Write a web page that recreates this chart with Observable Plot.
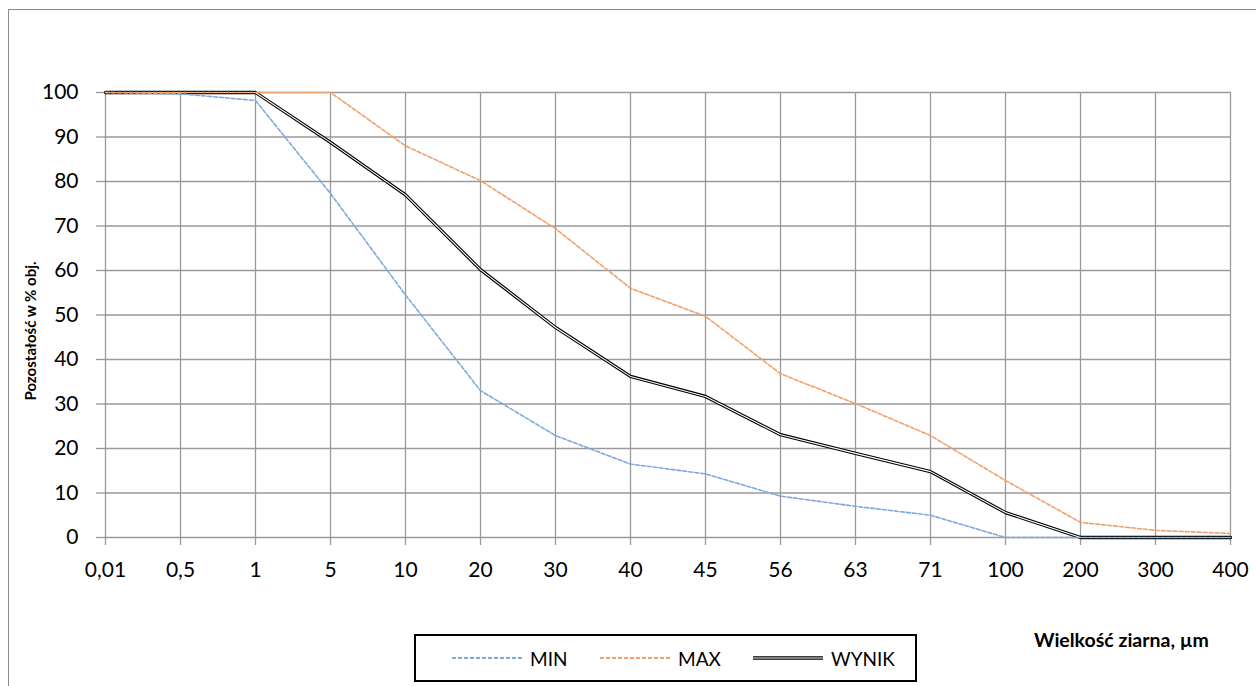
<!DOCTYPE html>
<html>
<head>
<meta charset="utf-8">
<script src="https://cdn.jsdelivr.net/npm/d3@7"></script>
<script src="https://cdn.jsdelivr.net/npm/@observablehq/plot@0.6"></script>
<style>
  html, body { margin: 0; padding: 0; background: #fff; overflow: hidden; }
  body { width: 1256px; height: 686px; position: relative; font-family: Lato, "Open Sans", sans-serif; }
  #frame { position: absolute; left: 8px; top: 9px; width: 1400px; height: 800px;
           border-left: 1.3px solid #8c8c8c; border-top: 1.3px solid #8c8c8c; }
  #chart { position: absolute; left: 0; top: 0; }
  #ytitle { position: absolute; left: 30px; top: 331px; transform: translate(-50%, -50%) rotate(-90deg);
            font-weight: bold; font-size: 15px; white-space: nowrap; color: #000; }
  #xtitle { position: absolute; left: 1034px; top: 628px; font-weight: bold; font-size: 19.5px;
            white-space: nowrap; color: #000; }
  #legend { position: absolute; left: 414px; top: 634px; width: 499px; height: 44px;
            border: 2px solid #000; background: #fff; }
  .item { position: absolute; top: 0; height: 44px; display: flex; align-items: center; font-size: 19px; color: #000; }
  .item svg { margin-right: 8px; }
</style>
</head>
<body>
<div id="frame"></div>
<div id="chart"></div>
<div id="ytitle">Pozostałość w % obj.</div>
<div id="xtitle">Wielkość ziarna, µm</div>
<div id="legend"></div>
<script>
const categories = ["0,01","0,5","1","5","10","20","30","40","45","56","63","71","100","200","300","400"];
const minValues  = [100, 99.7, 98.2, 77.3, 54.5, 33, 22.9, 16.5, 14.3, 9.3, 7.0, 5.0, 0, 0, 0, 0];
const maxValues  = [100, 100, 100, 100, 88, 80.2, 69.4, 56, 49.7, 36.8, 30.1, 22.9, 12.8, 3.4, 1.6, 0.9];
const wynikValues = [100, 100, 100, 88.8, 77, 60.2, 47.2, 36.2, 31.7, 23.1, 18.9, 14.8, 5.6, 0, 0, 0];
const yTicks = [0,10,20,30,40,50,60,70,80,90,100];
const seriesNames = ["MIN", "MAX", "WYNIK"];
const colors = { MIN: "#7ea9dc", MAX: "#f2a06a", WYNIK: "#000000" };

const rows = (vals) => categories.map((c, i) => ({ x: c, y: vals[i] }));
const minData = rows(minValues), maxData = rows(maxValues), wynikData = rows(wynikValues);

const gridColor = "#9a9a9a";

const plot = Plot.plot({
  width: 1256,
  height: 600,
  marginLeft: 103,
  marginRight: 25,
  marginTop: 92,
  marginBottom: 63,
  style: { fontFamily: "Lato, 'Open Sans', sans-serif", background: "transparent", color: "#000" },
  x: { type: "point", domain: categories, padding: 0 },
  y: { domain: [0, 100] },
  marks: [
    Plot.ruleX(categories, { x: d => d, y1: 0, y2: 100, stroke: gridColor, strokeWidth: 1.3 }),
    Plot.ruleY(yTicks, { y: d => d, stroke: gridColor, strokeWidth: 1.3 }),
    Plot.axisX({ tickSize: 8, tickPadding: 17, fontSize: 21, stroke: gridColor, strokeWidth: 1.3, fill: "#000", label: null }),
    Plot.axisY({ ticks: yTicks, tickSize: 7, tickPadding: 18, fontSize: 21, stroke: gridColor, strokeWidth: 1.3, fill: "#000", label: null, tickFormat: d => String(d) }),
    Plot.line(wynikData, { x: "x", y: "y", stroke: "#000", strokeWidth: 3.3 }),
    Plot.line(wynikData, { x: "x", y: "y", stroke: "#fff", strokeWidth: 1.1 }),
    Plot.line(minData, { x: "x", y: "y", stroke: colors.MIN, strokeWidth: 1.6, strokeDasharray: "4,2" }),
    Plot.line(maxData, { x: "x", y: "y", stroke: colors.MAX, strokeWidth: 1.6, strokeDasharray: "4,2" })
  ]
});
document.getElementById("chart").appendChild(plot);

// legend
const legend = document.getElementById("legend");
const itemLeft = { MIN: 36, MAX: 184, WYNIK: 337 };
seriesNames.forEach(name => {
  const div = document.createElement("div");
  div.className = "item";
  div.style.left = itemLeft[name] + "px";
  const ns = "http://www.w3.org/2000/svg";
  const svg = document.createElementNS(ns, "svg");
  svg.setAttribute("width", 70); svg.setAttribute("height", 10);
  const mk = (stroke, w, dash) => {
    const l = document.createElementNS(ns, "line");
    l.setAttribute("x1", 0); l.setAttribute("x2", 70); l.setAttribute("y1", 5); l.setAttribute("y2", 5);
    l.setAttribute("stroke", stroke); l.setAttribute("stroke-width", w);
    if (dash) l.setAttribute("stroke-dasharray", dash);
    svg.appendChild(l);
  };
  if (name === "WYNIK") { mk("#000", 3.3); mk("#fff", 1.1); }
  else mk(colors[name], 1.8, "4,2");
  div.appendChild(svg);
  const span = document.createElement("span");
  span.textContent = name;
  div.appendChild(span);
  legend.appendChild(div);
});
</script>
</body>
</html>
